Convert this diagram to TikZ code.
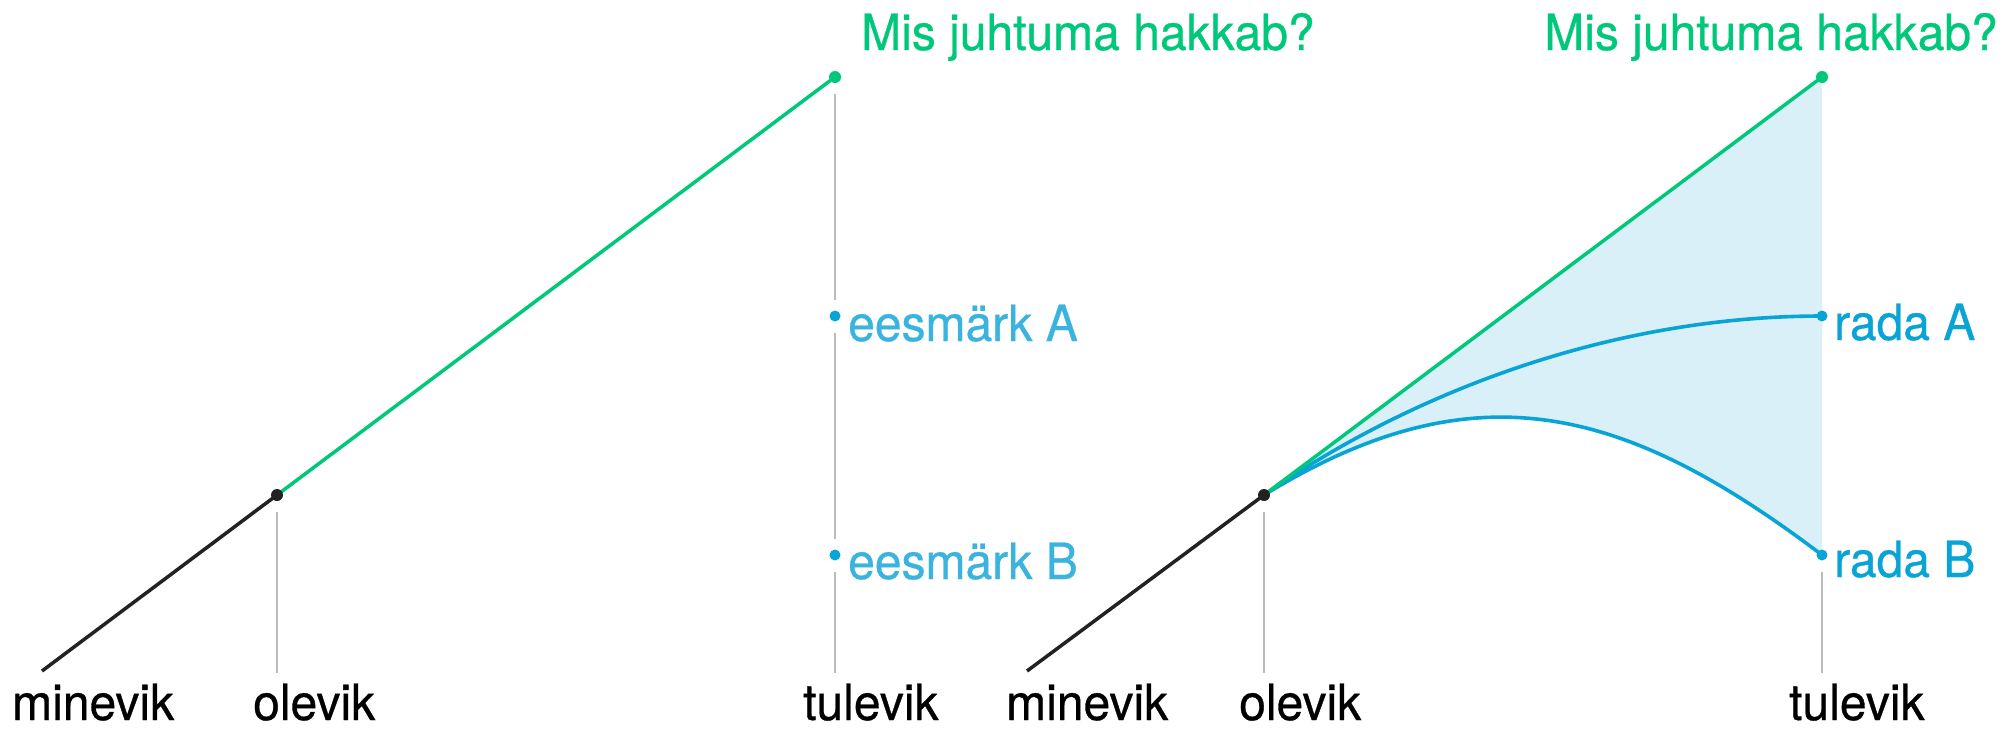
\documentclass[tikz,border=0pt]{standalone}
\usepackage{fontspec}
\setmainfont{TeX Gyre Heros}[FakeBold=0.6, FakeStretch=0.96]
\usetikzlibrary{backgrounds}

\definecolor{green}{RGB}{0,200,122}
\definecolor{blue}{RGB}{8,164,214}
\definecolor{skyblue}{RGB}{58,180,223}
\definecolor{paleblue}{RGB}{217,240,248}
\definecolor{tickgray}{RGB}{187,187,187}
\definecolor{ink}{RGB}{34,34,34}

\begin{document}
\begin{tikzpicture}[x=1pt,y=-1pt,
		dot/.style={circle, fill, inner sep=0pt, minimum size=12pt, outer sep=11pt},
		small dot/.style={dot, minimum size=11pt},
		word/.style={anchor=base west, inner sep=0pt, font=\fontsize{50}{60}\selectfont},
		tick/.style={tickgray, line width=1.8pt},
		ray/.style={line width=3.5pt},
		route/.style={blue, line width=3.6pt}]
		% Set diagram size to the one of the reference (2002 x 729)
		\useasboundingbox (0,0) rectangle (2002,729);

		% Left panel: points on the time line
		\coordinate (m1) at (42,671);
		\node[dot, ink] (o1) at (277,495) {};
		\node[dot, green] (q1) at (835,77) {};
		\node[small dot, blue] (a1) at (835,316) {};
		\node[small dot, blue] (b1) at (835,555) {};
		\coordinate (ot1) at (277,673);
		\coordinate (tt1) at (835,673);

		% Right panel: points on the time line
		\coordinate (m2) at (1027,671);
		\node[dot, ink] (o2) at (1264,495) {};
		\node[dot, green] (q2) at (1822,77) {};
		\node[small dot, blue] (a2) at (1822,316) {};
		\node[small dot, blue] (b2) at (1822,555) {};
		\coordinate (ot2) at (1264,673);
		\coordinate (tt2) at (1822,673);

		\begin{scope}[on background layer]
			% The light blue area between the green line and "rada B"
			\fill[paleblue] (o2.center) -- (q2.center) -- (b2.center)
			.. controls (1624,405) and (1474,366) .. (o2.center) -- cycle;

			% The gray vertical segments below "olevik" and "tulevik"
			\draw[tick] (o1) -- (ot1);
			\draw[tick] (q1) -- (a1);
			\draw[tick] (a1) -- (b1);
			\draw[tick] (b1) -- (tt1);
			\draw[tick] (o2) -- (ot2);
			\draw[tick] (b2) -- (tt2);

			% The two blue routes
			\draw[route] (o2.center) .. controls (1400,400) and (1600,316) .. (a2.center);
			\draw[route] (o2.center) .. controls (1474,366) and (1624,405) .. (b2.center);

			% The black past and the green future
			\draw[ray, ink] (m1) -- (o1.center);
			\draw[ray, green] (o1.center) -- (q1.center);
			\draw[ray, ink] (m2) -- (o2.center);
			\draw[ray, green] (o2.center) -- (q2.center);
		\end{scope}

		% The question at the top in green
		\node[word, green] (h1) at (861,50) {Mis juhtuma hakkab?};
		\node[word, green, anchor=base east] (h2) at (1998,50) {Mis juhtuma hakkab?};

		% The goals and the routes
		\node[word, skyblue] (ea) at (848,341) {eesmärk A};
		\node[word, skyblue] (eb) at (848,579) {eesmärk B};
		\node[word, blue] (ra) at (1834,340) {rada A};
		\node[word, blue] (rb) at (1834,577) {rada B};

		% Text for the time line (bottom)
		\node[word] (mv1) at (12,720) {minevik};
		\node[word] (ov1) at (253,720) {olevik};
		\node[word] (tv1) at (803,720) {tulevik};
		\node[word] (mv2) at (1006,720) {minevik};
		\node[word] (ov2) at (1239,720) {olevik};
		\node[word] (tv2) at (1789,720) {tulevik};
	\end{tikzpicture}
\end{document}
